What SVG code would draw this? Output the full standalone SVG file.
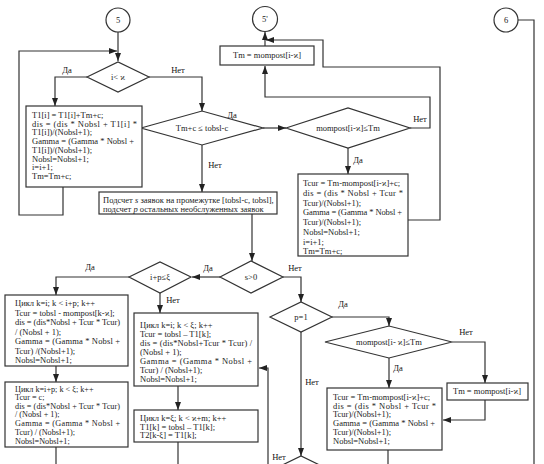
<svg xmlns="http://www.w3.org/2000/svg" width="544" height="464" viewBox="0 0 544 464">
<style>
.b{fill:#fff;stroke:#333;stroke-width:1.2}
.c{fill:none;stroke:#333;stroke-width:1.2}
.t{font-family:"Liberation Serif","DejaVu Serif",serif;font-size:8.5px;fill:#222}
.s{font-size:8.2px}
.m{text-anchor:middle}
.l{font-family:"Liberation Serif","DejaVu Serif",serif;font-size:8.5px;fill:#111}
</style>
<defs>
<marker id="a" markerUnits="userSpaceOnUse" markerWidth="8" markerHeight="6" refX="8" refY="3" orient="auto">
<path d="M0,0 L8,3 L0,6 z" fill="#222"/>
</marker>
</defs>
<rect width="544" height="464" fill="#fff"/>

<g id="connectors" class="c">
<path d="M118,32 V61" marker-end="url(#a)"/>
<path d="M63,187 V215 H19 V51 H117" marker-end="url(#a)"/>
<path d="M87,77 H55 V106" marker-end="url(#a)"/>
<path d="M149,77 H202 V111" marker-end="url(#a)"/>
<path d="M263,128 H286" marker-end="url(#a)"/>
<path d="M202,145 V192" marker-end="url(#a)"/>
<path d="M348,148 V174" marker-end="url(#a)"/>
<path d="M410,128 H430 V97 H265 V66" marker-end="url(#a)"/>
<path d="M408,220 H440 V67 H323 V40 H266" marker-end="url(#a)"/>
<path d="M265,46 V32" marker-end="url(#a)"/>
<path d="M518,20 H534 V464"/>
<path d="M252,214 V261" marker-end="url(#a)"/>
<path d="M220,277 H192" marker-end="url(#a)"/>
<path d="M283,277 H301 V302" marker-end="url(#a)"/>
<path d="M129,277 H56 V295" marker-end="url(#a)"/>
<path d="M160,293 V313" marker-end="url(#a)"/>
<path d="M56,366 V382" marker-end="url(#a)"/>
<path d="M56,447 V464"/>
<path d="M178,386 V410" marker-end="url(#a)"/>
<path d="M178,442 V464"/>
<path d="M268,464 V368 H259" marker-end="url(#a)"/>
<path d="M332,317 H389 V326" marker-end="url(#a)"/>
<path d="M301,332 V456" marker-end="url(#a)"/>
<path d="M452,342 H485 V383" marker-end="url(#a)"/>
<path d="M389,358 V388" marker-end="url(#a)"/>
<path d="M485,400 V420 H443" marker-end="url(#a)"/>
<path d="M388,450 V464"/>
</g>

<g id="labels">
<text class="l m" x="67" y="73">Да</text>
<text class="l m" x="178" y="73">Нет</text>
<text class="l m" x="232" y="118">Да</text>
<text class="l m" x="215" y="168">Нет</text>
<text class="l m" x="420" y="122">Нет</text>
<text class="l m" x="358" y="163">Да</text>
<text class="l m" x="208" y="271">Да</text>
<text class="l m" x="295" y="271">Нет</text>
<text class="l m" x="90" y="270">Да</text>
<text class="l m" x="173" y="303">Нет</text>
<text class="l m" x="343" y="307">Да</text>
<text class="l m" x="312" y="385">Нет</text>
<text class="l m" x="466" y="335">Нет</text>
<text class="l m" x="398" y="371">Да</text>
<text class="l m" x="279" y="460">Нет</text>
</g>

<g id="c5"><circle class="b" cx="118" cy="20" r="12"/><text class="t m" x="118" y="23">5</text></g>
<g id="c5p"><circle class="b" cx="265" cy="19" r="12.5"/><text class="t m" x="265" y="22">5'</text></g>
<g id="c6"><circle class="b" cx="506" cy="20" r="12"/><text class="t m" x="506" y="23">6</text></g>

<g id="d1"><polygon class="b" points="87,77 118,62 149,77 118,92"/><text class="t m" x="118" y="80">i&lt; ϰ</text></g>
<g id="d2"><polygon class="b" points="141,128 202,111 263,128 202,145"/><text class="t m" x="202" y="131">Tm+c ≤ tobsl-c</text></g>
<g id="d3"><polygon class="b" points="286,128 348,108 410,128 348,148"/><text class="t m" x="348" y="131">mompost[i-ϰ]≤Tm</text></g>
<g id="d4"><polygon class="b" points="220,277 251,261 283,277 251,293"/><text class="t m" x="251" y="280">s&gt;0</text></g>
<g id="d5"><polygon class="b" points="129,277 160,262 191,277 160,293"/><text class="t m" x="160" y="280">i+p≤ξ</text></g>
<g id="d6"><polygon class="b" points="270,317 301,302 332,317 301,332"/><text class="t m" x="301" y="320">p=1</text></g>
<g id="d7"><polygon class="b" points="325,342 389,326 452,342 389,358"/><text class="t m" x="389" y="345">mompost[i- ϰ]≤Tm</text></g>
<g id="d8"><polygon class="b" points="270,471 301,456 332,471 301,486"/></g>

<g id="b_tm1"><rect class="b" x="220" y="46" width="94" height="19"/><text class="t m" x="267" y="58">Tm = mompost[i-ϰ]</text></g>
<g id="b_tm2"><rect class="b" x="447" y="383" width="81" height="17"/><text class="t m" x="487" y="394">Tm = mompost[i-ϰ]</text></g>

<g id="b_t1"><rect class="b" x="26" y="106" width="116" height="81"/>
<text class="t" x="32" y="118">T1[i] = T1[i]+Tm+c;</text>
<text class="t" x="32" y="126.7" textLength="105" lengthAdjust="spacing">dis = (dis * Nobsl + T1[i] *</text>
<text class="t" x="32" y="135.4">T1[i])/(Nobsl+1);</text>
<text class="t" x="32" y="144.1" textLength="102" lengthAdjust="spacing">Gamma = (Gamma * Nobsl +</text>
<text class="t" x="32" y="152.8">T1[i])/(Nobsl+1);</text>
<text class="t" x="32" y="161.5">Nobsl=Nobsl+1;</text>
<text class="t" x="32" y="170.2">i=i+1;</text>
<text class="t" x="32" y="178.9">Tm=Tm+c;</text>
</g>

<g id="b_tcur1"><rect class="b" x="298" y="174" width="110" height="82"/>
<text class="t" x="303" y="186">Tcur = Tm-mompost[i-ϰ]+c;</text>
<text class="t" x="303" y="195.8" textLength="100" lengthAdjust="spacing">dis = (dis * Nobsl + Tcur *</text>
<text class="t" x="303" y="205.6">Tcur)/(Nobsl+1);</text>
<text class="t" x="303" y="215.4" textLength="99" lengthAdjust="spacing">Gamma = (Gamma * Nobsl +</text>
<text class="t" x="303" y="225.2">Tcur)/(Nobsl+1);</text>
<text class="t" x="303" y="235">Nobsl=Nobsl+1;</text>
<text class="t" x="303" y="244.8">i=i+1;</text>
<text class="t" x="303" y="254">Tm=Tm+c;</text>
</g>

<g id="b_count"><rect class="b" x="99" y="192" width="178" height="22"/>
<text class="t" x="103" y="203">Подсчет <tspan font-style="italic">s</tspan> заявок на промежутке [tobsl-c, tobsl],</text>
<text class="t" x="103" y="212">подсчет <tspan font-style="italic">p</tspan> остальных необслуженных заявок</text>
</g>

<g id="b_loop1"><rect class="b" x="5" y="295" width="123" height="71"/>
<text class="t" x="15" y="306">Цикл k=i; k &lt; i+p; k++</text>
<text class="t" x="15" y="315.5">Tcur = tobsl - mompost[k-ϰ];</text>
<text class="t" x="15" y="325" textLength="105" lengthAdjust="spacing">dis = (dis*Nobsl + Tcur * Tcur)</text>
<text class="t" x="15" y="334.5">/ (Nobsl + 1);</text>
<text class="t" x="15" y="344" textLength="105" lengthAdjust="spacing">Gamma = (Gamma * Nobsl +</text>
<text class="t" x="15" y="353.5">Tcur) /(Nobsl+1);</text>
<text class="t" x="15" y="363">Nobsl=Nobsl+1;</text>
</g>

<g id="b_loop2"><rect class="b" x="5" y="382" width="123" height="65"/>
<text class="t s" x="15" y="391.5">Цикл k=i+p; k &lt; ξ; k++</text>
<text class="t s" x="15" y="400.1">Tcur = c;</text>
<text class="t s" x="15" y="408.7" textLength="105" lengthAdjust="spacing">dis = (dis*Nobsl + Tcur * Tcur)</text>
<text class="t s" x="15" y="417.3">/ (Nobsl + 1);</text>
<text class="t s" x="15" y="425.9" textLength="105" lengthAdjust="spacing">Gamma = (Gamma * Nobsl +</text>
<text class="t s" x="15" y="434.5">Tcur) / (Nobsl+1);</text>
<text class="t s" x="15" y="443.5">Nobsl=Nobsl+1;</text>
</g>

<g id="b_loop3"><rect class="b" x="134" y="313" width="124" height="73"/>
<text class="t" x="140" y="328">Цикл k=i; k &lt; ξ; k++</text>
<text class="t" x="140" y="337">Tcur = tobsl – T1[k];</text>
<text class="t" x="140" y="346" textLength="112" lengthAdjust="spacing">dis = (dis*Nobsl+Tcur * Tcur) /</text>
<text class="t" x="140" y="355">(Nobsl + 1);</text>
<text class="t" x="140" y="364" textLength="112" lengthAdjust="spacing">Gamma = (Gamma * Nobsl +</text>
<text class="t" x="140" y="373">Tcur) / (Nobsl+1);</text>
<text class="t" x="140" y="382">Nobsl=Nobsl+1;</text>
</g>

<g id="b_loop4"><rect class="b" x="134" y="410" width="124" height="32"/>
<text class="t" x="140" y="421">Цикл k=ξ; k &lt; ϰ+m; k++</text>
<text class="t" x="140" y="429.5">T1[k] = tobsl – T1[k];</text>
<text class="t" x="140" y="438">T2[k-ξ] = T1[k];</text>
</g>

<g id="b_tcur2"><rect class="b" x="327" y="388" width="115" height="62"/>
<text class="t" x="333" y="400">Tcur = Tm-mompost[i-ϰ]+c;</text>
<text class="t" x="333" y="408.5" textLength="103" lengthAdjust="spacing">dis = (dis * Nobsl + Tcur *</text>
<text class="t" x="333" y="417">Tcur)/(Nobsl+1);</text>
<text class="t" x="333" y="426" textLength="102" lengthAdjust="spacing">Gamma = (Gamma * Nobsl +</text>
<text class="t" x="333" y="435">Tcur)/(Nobsl+1);</text>
<text class="t" x="333" y="443.5">Nobsl=Nobsl+1;</text>
</g>
</svg>
